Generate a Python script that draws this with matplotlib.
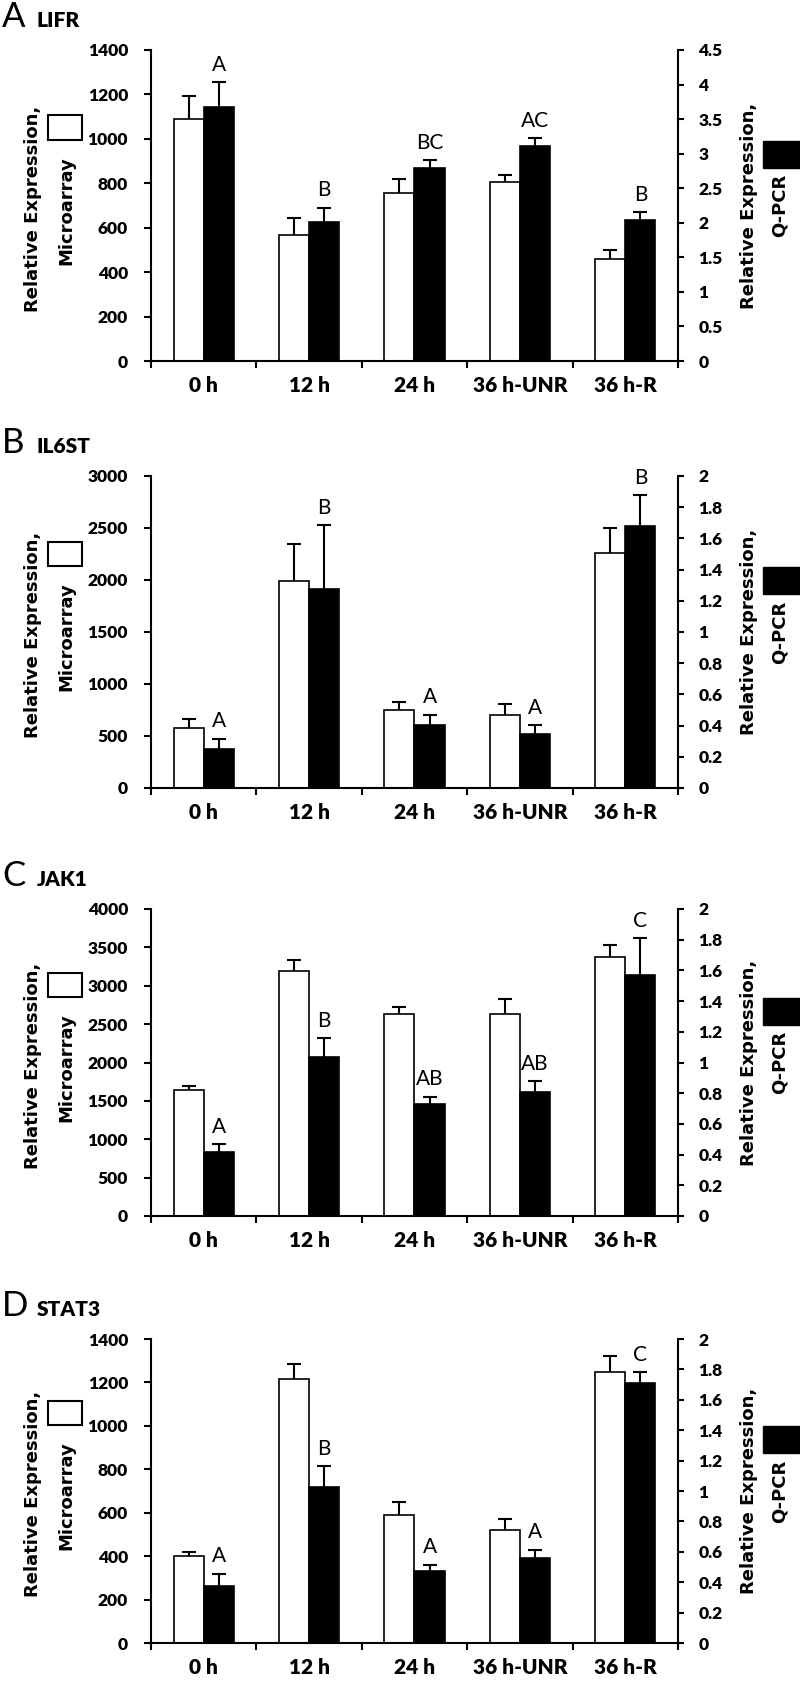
import numpy as np
import matplotlib
matplotlib.use("Agg")
from matplotlib import pyplot as plt
from matplotlib.patches import Rectangle
from matplotlib.ticker import MultipleLocator, FuncFormatter

times = ["0 h", "12 h", "24 h", "36 h-UNR", "36 h-R"]

# LIFR
lifr_array = [1090, 567, 758, 807, 457]
lifr_array_err = [105, 75, 61, 30, 42]
lifr_qpcr = [3.67, 2.01, 2.79, 3.11, 2.04]
lifr_qpcr_err = [0.37, 0.21, 0.12, 0.12, 0.12]
lifr_letters = ["A", "B", "BC", "AC", "B"]

# IL6ST
il6st_array = [581, 1993, 748, 706, 2262]
il6st_array_err = [80, 352, 80, 99, 234]
il6st_qpcr = [0.252, 1.277, 0.406, 0.349, 1.679]
il6st_qpcr_err = [0.065, 0.411, 0.065, 0.053, 0.199]
il6st_letters = ["A", "B", "A", "A", "B"]

# JAK1
jak1_array = [1643, 3196, 2635, 2635, 3370]
jak1_array_err = [57, 143, 82, 191, 156]
jak1_qpcr = [0.42, 1.037, 0.728, 0.811, 1.572]
jak1_qpcr_err = [0.05, 0.122, 0.05, 0.069, 0.237]
jak1_letters = ["A", "B", "AB", "AB", "C"]

# STAT3
stat3_array = [400, 1215, 589, 520, 1246]
stat3_array_err = [20, 70, 59, 49, 77]
stat3_qpcr = [0.374, 1.029, 0.473, 0.560, 1.710]
stat3_qpcr_err = [0.083, 0.136, 0.043, 0.055, 0.070]
stat3_letters = ["A", "B", "A", "A", "C"]

W, H = 800, 1684
plt.rcParams['font.family'] = ['Lato', 'DejaVu Sans']


def fx(x):
	return x / W


def fy(y):
	return 1 - y / H


panels = [
	# letter, gene, array, array_err, qpcr, qpcr_err, letters, left max/step, right max/step, top px, bottom px
	("A", "LIFR", lifr_array, lifr_array_err, lifr_qpcr, lifr_qpcr_err, lifr_letters, (1400, 200), (4.5, 0.5), 50, 361),
	("B", "IL6ST", il6st_array, il6st_array_err, il6st_qpcr, il6st_qpcr_err, il6st_letters, (3000, 500), (2, 0.2), 476, 788),
	("C", "JAK1", jak1_array, jak1_array_err, jak1_qpcr, jak1_qpcr_err, jak1_letters, (4000, 500), (2, 0.2), 909, 1216),
	("D", "STAT3", stat3_array, stat3_array_err, stat3_qpcr, stat3_qpcr_err, stat3_letters, (1400, 200), (2, 0.2), 1339, 1643),
]

fig = plt.figure(figsize=(W / 100, H / 100), dpi=100)
left_px, right_px = 151, 678
idx = np.arange(len(times))
bw = 0.285
lab_font = dict(fontsize=13, fontweight="bold", family="DejaVu Sans", rotation=90, ha="center", va="center")

for (pl, gene, arr, arr_err, qp, qp_err, letters, lrange, rrange, top, bot) in panels:
	ax = fig.add_axes([fx(left_px), fy(bot), (right_px - left_px) / W, (bot - top) / H])
	ax2 = ax.twinx()
	xw = idx + 0.5 - bw / 2
	xb = idx + 0.5 + bw / 2
	arr = np.array(arr, dtype=float)
	arr_err = np.array(arr_err, dtype=float)
	qp = np.array(qp, dtype=float)
	qp_err = np.array(qp_err, dtype=float)

	ax.bar(xw, arr, width=bw, color="white", edgecolor="black", linewidth=1.2, zorder=2)
	ax.errorbar(xw, arr, yerr=[np.zeros(5), arr_err], fmt="none", ecolor="black", elinewidth=1.5, capsize=0, zorder=1)
	ax.plot(xw, arr + arr_err, ls="none", marker="_", ms=10, mew=1.5, color="black", clip_on=False)

	ax2.bar(xb, qp, width=bw, color="black", edgecolor="black", linewidth=1.2, zorder=2)
	ax2.errorbar(xb, qp, yerr=[np.zeros(5), qp_err], fmt="none", ecolor="black", elinewidth=1.5, capsize=0, zorder=1)
	ax2.plot(xb, qp + qp_err, ls="none", marker="_", ms=10, mew=1.5, color="black", clip_on=False)
	for x, v, e, t in zip(xb, qp, qp_err, letters):
		ax2.annotate(t, (x, v + e), xytext=(0, 8), textcoords="offset points", ha="center", va="baseline",
		             fontsize=15, fontweight="normal", family="Lato", annotation_clip=False)

	ax.set_xlim(0, 5)
	ax.set_ylim(0, lrange[0])
	ax.yaxis.set_major_locator(MultipleLocator(lrange[1]))
	ax2.set_ylim(0, rrange[0])
	ax2.yaxis.set_major_locator(MultipleLocator(rrange[1]))
	ax2.yaxis.set_major_formatter(FuncFormatter(lambda v, p: "%g" % round(v, 2)))

	ax.set_xticks(np.arange(6))
	ax.set_xticklabels([])
	ax.set_xticks(idx + 0.5, minor=True)
	ax.set_xticklabels(times, minor=True, fontweight="heavy")
	ax.tick_params(axis="x", which="major", direction="out", length=5, width=1.5)
	ax.tick_params(axis="x", which="minor", length=0, pad=11, labelsize=15)
	ax.tick_params(axis="y", direction="out", length=5, width=1.5, pad=11.5, labelsize=12.5)
	ax2.tick_params(axis="y", direction="out", length=4.5, width=1.5, pad=10, labelsize=12.5)
	for lab in ax.get_yticklabels() + ax2.get_yticklabels():
		lab.set_fontweight("heavy")

	for s in ["top", "right"]:
		ax.spines[s].set_visible(False)
	for s in ["top", "left", "bottom"]:
		ax2.spines[s].set_visible(False)
	ax.spines["left"].set_linewidth(1.5)
	ax.spines["bottom"].set_linewidth(1.5)
	ax2.spines["right"].set_linewidth(1.5)

	mid = (top + bot) / 2
	# left axis label with white key box
	fig.text(fx(33), fy(mid + 3), "Relative Expression,", **lab_font)
	fig.text(fx(66), fy(mid + 5), "Microarray", **lab_font)
	fig.add_artist(Rectangle((fx(48), fy(mid - 66)), 34 / W, 24 / H, transform=fig.transFigure,
	                         facecolor="white", edgecolor="black", lw=1.5))
	# right axis label with black key box
	fig.text(fx(749), fy(mid), "Relative Expression,", **lab_font)
	fig.text(fx(780), fy(mid), "Q-PCR", **lab_font)
	fig.add_artist(Rectangle((fx(763), fy(mid - 38)), 42 / W, 27 / H, transform=fig.transFigure,
	                         facecolor="black", edgecolor="black", lw=1))

	# panel title
	fig.text(fx(2), fy(top - 23), pl, fontsize=25, va="baseline", ha="left", family="Lato", fontweight="normal")
	fig.text(fx(37), fy(top - 23), gene, fontsize=15, va="baseline", ha="left", family="Lato", fontweight="heavy")

fig.savefig("out.png", dpi=100)
